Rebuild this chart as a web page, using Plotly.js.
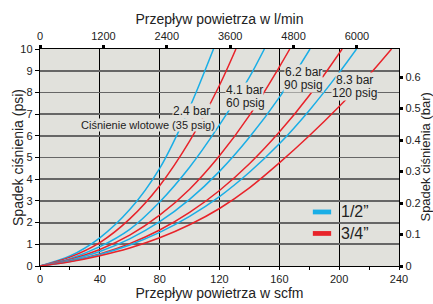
<!DOCTYPE html>
<html>
<head>
<meta charset="utf-8">
<script src="https://cdn.plot.ly/plotly-3.0.1.min.js"></script>
<style>html,body{margin:0;padding:0;background:#fff;}#chart{width:433px;height:304px;}</style>
</head>
<body>
<div id="chart"></div>
<script>
// Flow in scfm and pressure drop in psi
const flowBlue1 = [0, 20, 40, 60, 80, 100, 116];
const dropBlue1 = [0, 0.46, 1.3, 2.6, 4.5, 7.3, 10];
const flowRed1  = [0, 20, 40, 60, 80, 100, 120, 131];
const dropRed1  = [0, 0.41, 1.08, 2.17, 3.7, 5.75, 8.33, 10];
const flowBlue2 = [0, 20, 40, 60, 80, 100, 120, 140, 150];
const dropBlue2 = [0, 0.34, 0.89, 1.69, 2.95, 4.55, 6.5, 8.7, 10];
const flowRed2  = [0, 20, 40, 60, 80, 100, 120, 140, 160, 167];
const dropRed2  = [0, 0.30, 0.76, 1.42, 2.34, 3.54, 5.08, 6.94, 9.17, 10];
const flowBlue3 = [0, 20, 40, 60, 80, 100, 120, 140, 160, 180.5];
const dropBlue3 = [0, 0.27, 0.67, 1.25, 2.04, 3.07, 4.36, 5.93, 7.77, 10];
const flowRed3  = [0, 20, 40, 60, 80, 100, 120, 140, 160, 180, 202];
const dropRed3  = [0, 0.23, 0.56, 1.03, 1.66, 2.47, 3.48, 4.71, 6.17, 7.86, 10];
const flowBlue4 = [0, 20, 40, 60, 80, 100, 120, 140, 160, 180, 200, 211.6];
const dropBlue4 = [0, 0.21, 0.53, 0.97, 1.55, 2.29, 3.2, 4.32, 5.63, 7.17, 8.91, 10];
const flowRed4  = [0, 20, 40, 60, 80, 100, 120, 140, 160, 180, 200, 220, 235];
const dropRed4  = [0, 0.19, 0.47, 0.83, 1.3, 1.9, 2.65, 3.6, 4.75, 6.0, 7.35, 8.8, 10];

const scfmTicks = [0, 40, 80, 120, 160, 200, 240];
const lpmTicks = [0, 1200, 2400, 3600, 4800, 6000];
const psiTicks = [0, 1, 2, 3, 4, 5, 6, 7, 8, 9, 10];
const barTicks = [0, 0.1, 0.2, 0.3, 0.4, 0.5, 0.6];

const pressureLabels = [
  {text: '2.4 bar', x: 101, y: 7.14},
  {text: 'Ciśnienie wlotowe (35 psig)', x: 72, y: 6.52, small: true},
  {text: '4.1 bar', x: 137, y: 8.13},
  {text: '60 psig', x: 137.7, y: 7.51},
  {text: '6.2 bar', x: 176, y: 8.94},
  {text: '90 psig', x: 176.3, y: 8.36},
  {text: '8.3 bar', x: 210.3, y: 8.57},
  {text: '120 psig', x: 210.3, y: 7.97}
];
const legendNames = ['1/2”', '3/4”'];
const titleTop = 'Przepływ powietrza w l/min';
const titleBottom = 'Przepływ powietrza w scfm';
const titleLeft = 'Spadek ciśnienia (psi)';
const titleRight = 'Spadek ciśnienia (bar)';

const LPM_PER_SCFM = 28.3168;
const PSI_PER_BAR = 14.5038;
const BLUE = '#1aaee6';
const RED = '#e8232a';
const BG = '#e1e1dc';
const FAMILY = 'Liberation Sans, Arial, sans-serif';

function curve(x, y, color) {
  return {x: x, y: y, type: 'scatter', mode: 'lines',
          line: {color: color, width: 1.5, shape: 'spline', smoothing: 0.8},
          showlegend: false, hoverinfo: 'skip'};
}
const traces = [
  curve(flowBlue1, dropBlue1, BLUE), curve(flowRed1, dropRed1, RED),
  curve(flowBlue2, dropBlue2, BLUE), curve(flowRed2, dropRed2, RED),
  curve(flowBlue3, dropBlue3, BLUE), curve(flowRed3, dropRed3, RED),
  curve(flowBlue4, dropBlue4, BLUE), curve(flowRed4, dropRed4, RED),
  {x: [], y: [], xaxis: 'x2', yaxis: 'y2', type: 'scatter', mode: 'lines', showlegend: false}
];

const annotations = pressureLabels.map(l => ({
  text: l.text, x: l.x, y: l.y, xref: 'x', yref: 'y', showarrow: false,
  font: {family: FAMILY, size: l.small ? 11 : 12, color: '#222'},
  bgcolor: BG, borderpad: 0, xanchor: 'center', yanchor: 'middle'
}));
annotations.push(
  {text: legendNames[0], x: 0.836, y: 0.249, xref: 'paper', yref: 'paper', xanchor: 'left', yanchor: 'middle',
   showarrow: false, font: {family: FAMILY, size: 16, color: '#222'}, bgcolor: BG, borderpad: 0},
  {text: legendNames[1], x: 0.836, y: 0.150, xref: 'paper', yref: 'paper', xanchor: 'left', yanchor: 'middle',
   showarrow: false, font: {family: FAMILY, size: 16, color: '#222'}, bgcolor: BG, borderpad: 0},
  {text: titleLeft, x: -0.0627, y: 0.5, xref: 'paper', yref: 'paper', xanchor: 'center', yanchor: 'middle',
   textangle: -90, showarrow: false, font: {family: FAMILY, size: 14, color: '#222'}},
  {text: titleRight, x: 1.0725, y: 0.5, xref: 'paper', yref: 'paper', xanchor: 'center', yanchor: 'middle',
   textangle: -90, showarrow: false, font: {family: FAMILY, size: 13, color: '#222'}}
);

const layout = {
  width: 433, height: 304,
  margin: {l: 40, r: 34, t: 49, b: 38},
  paper_bgcolor: '#fff', plot_bgcolor: BG,
  font: {family: FAMILY, size: 11, color: '#222'},
  showlegend: false,
  xaxis: {
    range: [0, 240], tickvals: scfmTicks, ticks: 'outside', ticklen: 3, tickcolor: '#000',
    showgrid: true, gridcolor: '#000', gridwidth: 1,
    showline: true, linecolor: '#000', linewidth: 1.2, zeroline: false,
    minor: {dtick: 20, ticks: 'outside', ticklen: 3, tickcolor: '#000', showgrid: false},
    tickfont: {size: 11},
    title: {text: titleBottom, font: {size: 14}, standoff: 0}
  },
  yaxis: {
    range: [0, 10], tickvals: psiTicks, ticks: 'outside', ticklen: 4, tickcolor: '#000',
    showgrid: true, gridcolor: '#666', gridwidth: 1.8,
    showline: true, linecolor: '#000', linewidth: 1.2, zeroline: false,
    tickfont: {size: 11}
  },
  xaxis2: {
    overlaying: 'x', side: 'top', range: [0, 240 * LPM_PER_SCFM], tickvals: lpmTicks,
    ticks: 'outside', ticklen: 3, tickwidth: 3, tickcolor: '#000',
    showgrid: false, showline: true, linecolor: '#000', linewidth: 1.2, zeroline: false,
    tickfont: {size: 11},
    title: {text: titleTop, font: {size: 14}, standoff: 2}
  },
  yaxis2: {
    overlaying: 'y', side: 'right', range: [0, 10 / PSI_PER_BAR], tickvals: barTicks,
    ticktext: barTicks.map(v => String(v)),
    ticks: 'outside', ticklen: 3, tickwidth: 3, tickcolor: '#000',
    showgrid: false, showline: true, linecolor: '#000', linewidth: 1.2, zeroline: false,
    tickfont: {size: 11}
  },
  shapes: [
    {type: 'rect', xref: 'paper', yref: 'paper', x0: 0.760, x1: 0.811, y0: 0.238, y1: 0.260,
     fillcolor: BLUE, line: {width: 0}},
    {type: 'rect', xref: 'paper', yref: 'paper', x0: 0.760, x1: 0.811, y0: 0.139, y1: 0.161,
     fillcolor: RED, line: {width: 0}}
  ],
  annotations: annotations
};

Plotly.newPlot('chart', traces, layout, {displayModeBar: false, staticPlot: true});
</script>
</body>
</html>
